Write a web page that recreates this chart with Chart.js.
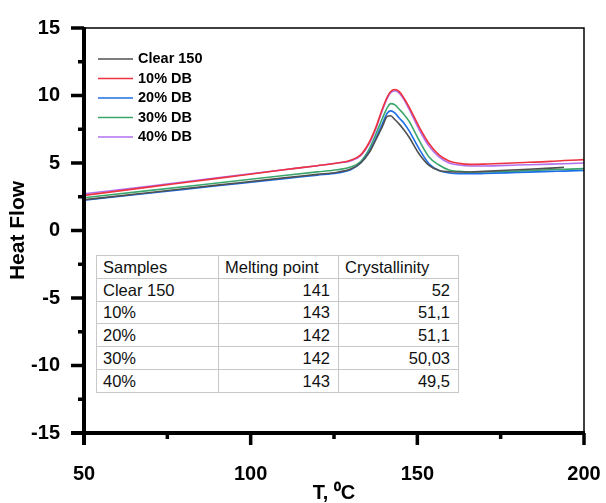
<!DOCTYPE html>
<html>
<head>
<meta charset="utf-8">
<script src="https://cdn.jsdelivr.net/npm/chart.js@4"></script>
<style>
  body { margin: 0; background: #fff; }
  #wrap { position: relative; width: 606px; height: 503px; }
  #props {
    position: absolute; left: 96px; top: 255px; width: 362px;
    table-layout: fixed;
    border-collapse: collapse; border: 1px solid #666;
    font: 16.5px "Liberation Sans", Arial, sans-serif; color: #111;
    background: #fff;
  }
  #props td { border: 1px solid #c8c8c8; height: 21.8px; line-height: 18px; padding: 0 8px 0 6px; white-space: nowrap; overflow: hidden; }
  #props td.num { text-align: right; }
</style>
</head>
<body>
<div id="wrap">
  <canvas id="dscChart" width="606" height="503"></canvas>
  <table id="props"></table>
</div>
<script>
// === DATA ===
const temps = [50, 70, 90, 110, 120, 126, 130, 133, 135.5, 137.5, 139.5, 141, 142, 143.3,
               144.5, 146, 147.5, 150.5, 153.5, 156.5, 159.5, 162.5, 166, 170, 180, 190, 194, 200];

const clear150 = [2.28, 2.82, 3.36, 3.9, 4.16, 4.32, 4.55, 5.0, 5.75, 6.7, 7.7, 8.45, 8.5, 8.2,
                  7.9, 7.45, 6.93, 5.69, 4.83, 4.45, 4.35, 4.33, 4.33, 4.38, 4.5, 4.62, 4.68, null];
const db10     = [2.6, 3.23, 3.86, 4.5, 4.8, 5.0, 5.2, 5.6, 6.5, 7.6, 9.0, 9.9, 10.3, 10.45,
                  10.3, 9.8, 9.16, 7.7, 6.45, 5.6, 5.15, 4.97, 4.9, 4.92, 5.02, 5.12, 5.18, 5.25];
const db20     = [2.25, 2.78, 3.31, 3.84, 4.1, 4.26, 4.5, 5.0, 5.8, 6.8, 7.9, 8.7, 8.86, 8.7,
                  8.35, 7.95, 7.4, 6.06, 4.95, 4.45, 4.26, 4.2, 4.2, 4.22, 4.3, 4.38, 4.4, 4.45];
const db30     = [2.43, 2.97, 3.52, 4.07, 4.34, 4.5, 4.7, 5.1, 6.0, 7.1, 8.3, 9.1, 9.4, 9.3,
                  9.0, 8.6, 8.1, 6.7, 5.45, 4.85, 4.48, 4.38, 4.33, 4.33, 4.4, 4.5, 4.53, 4.58];
const db40     = [2.72, 3.3, 3.9, 4.5, 4.8, 5.0, 5.15, 5.55, 6.4, 7.5, 8.9, 9.8, 10.2, 10.35,
                  10.2, 9.7, 9.0, 7.5, 6.25, 5.45, 5.0, 4.85, 4.78, 4.78, 4.85, 4.92, 4.95, 5.0];

const seriesLabels = ['Clear 150', '10% DB', '20% DB', '30% DB', '40% DB'];
const seriesColors = ['#505050', '#ee3340', '#1c6fe6', '#3aa66c', '#b070ee'];
const seriesValues = [clear150, db10, db20, db30, db40];

const tableHeader   = ['Samples', 'Melting point', 'Crystallinity'];
const tableSamples  = ['Clear 150', '10%', '20%', '30%', '40%'];
const meltingPoints = ['141', '143', '142', '142', '143'];
const crystallinity = ['52', '51,1', '51,1', '50,03', '49,5'];

const FONT = '"Liberation Sans", Arial, sans-serif';

// === TABLE ===
function buildTable() {
    const table = document.getElementById('props');
    let html = '<colgroup><col style="width:122px"><col style="width:120px"><col style="width:120px"></colgroup>';
    html += '<tr>' + tableHeader.map(h => `<td>${h}</td>`).join('') + '</tr>';
    tableSamples.forEach((s, i) => {
        html += `<tr><td>${s}</td><td class="num">${meltingPoints[i]}</td><td class="num">${crystallinity[i]}</td></tr>`;
    });
    table.innerHTML = html;
}

// === AXES FRAME, TICKS, LEGEND ===
const framePlugin = {
    id: 'frame',
    afterDraw(chart) {
        const { ctx, chartArea: a, scales: { x, y } } = chart;
        ctx.save();
        ctx.strokeStyle = '#000';

        // thin top/right border
        ctx.lineWidth = 1.5;
        ctx.beginPath();
        ctx.moveTo(a.left, a.top); ctx.lineTo(a.right, a.top); ctx.lineTo(a.right, a.bottom);
        ctx.stroke();

        // thick left/bottom axes
        ctx.lineWidth = 4;
        ctx.beginPath();
        ctx.moveTo(a.left, a.top - 1); ctx.lineTo(a.left, a.bottom + 12);
        ctx.moveTo(a.left - 13, a.bottom); ctx.lineTo(a.right + 1, a.bottom);
        ctx.stroke();

        ctx.lineWidth = 3.5;
        ctx.beginPath();
        for (let v = -15; v <= 15; v += 2.5) {
            const py = y.getPixelForValue(v);
            const len = v % 5 === 0 ? 13 : 6;
            ctx.moveTo(a.left - len, py); ctx.lineTo(a.left, py);
        }
        for (let v = 50; v <= 200; v += 25) {
            const px = x.getPixelForValue(v);
            const len = v % 50 === 0 ? 12 : 6;
            ctx.moveTo(px, a.bottom); ctx.lineTo(px, a.bottom + len);
        }
        ctx.stroke();

        // legend inside the plot
        ctx.font = `bold 14.5px ${FONT}`;
        ctx.textBaseline = 'middle';
        ctx.fillStyle = '#000';
        chart.data.datasets.forEach((ds, i) => {
            const ly = 59 + i * 19.5;
            ctx.strokeStyle = ds.borderColor;
            ctx.lineWidth = 1.6;
            ctx.beginPath();
            ctx.moveTo(98, ly); ctx.lineTo(133, ly);
            ctx.stroke();
            ctx.fillText(ds.label, 138, ly);
        });
        ctx.restore();
    },
};

// === CHART ===
function buildChart() {
    const datasets = seriesLabels.map((label, i) => ({
        label,
        data: temps.map((t, j) => ({ x: t, y: seriesValues[i][j] })),
        borderColor: seriesColors[i],
        borderWidth: 1.6,
        pointRadius: 0,
        cubicInterpolationMode: 'monotone',
        fill: false,
    }));

    new Chart(document.getElementById('dscChart').getContext('2d'), {
        type: 'line',
        data: { datasets },
        options: {
            responsive: false,
            animation: false,
            layout: { padding: { top: 28, right: 22, left: 0, bottom: 0 } },
            plugins: { legend: { display: false }, tooltip: { enabled: false } },
            scales: {
                x: {
                    type: 'linear', min: 50, max: 200,
                    afterFit: s => { s.height = 70; s.paddingLeft = 0; s.paddingRight = 0; },
                    grid: { display: false, drawTicks: false },
                    border: { display: false },
                    ticks: { stepSize: 50, padding: 29, color: '#000', font: { family: FONT, size: 20, weight: 'bold' } },
                    title: {
                        display: true, text: 'T, \u2070C', color: '#000',
                        padding: { top: 0, bottom: 0 },
                        font: { family: FONT, size: 20, weight: 'bold', lineHeight: 1 },
                    },
                },
                y: {
                    min: -15, max: 15,
                    afterFit: s => { s.width = 84; s.paddingTop = 0; s.paddingBottom = 0; },
                    grid: { display: false, drawTicks: false },
                    border: { display: false },
                    ticks: { stepSize: 5, padding: 24, color: '#000', font: { family: FONT, size: 20, weight: 'bold' } },
                    title: {
                        display: true, text: 'Heat Flow', color: '#000',
                        padding: { top: 6, bottom: 0 },
                        font: { family: FONT, size: 21, weight: 'bold' },
                    },
                },
            },
        },
        plugins: [framePlugin],
    });
}

buildTable();
buildChart();
</script>
</body>
</html>
